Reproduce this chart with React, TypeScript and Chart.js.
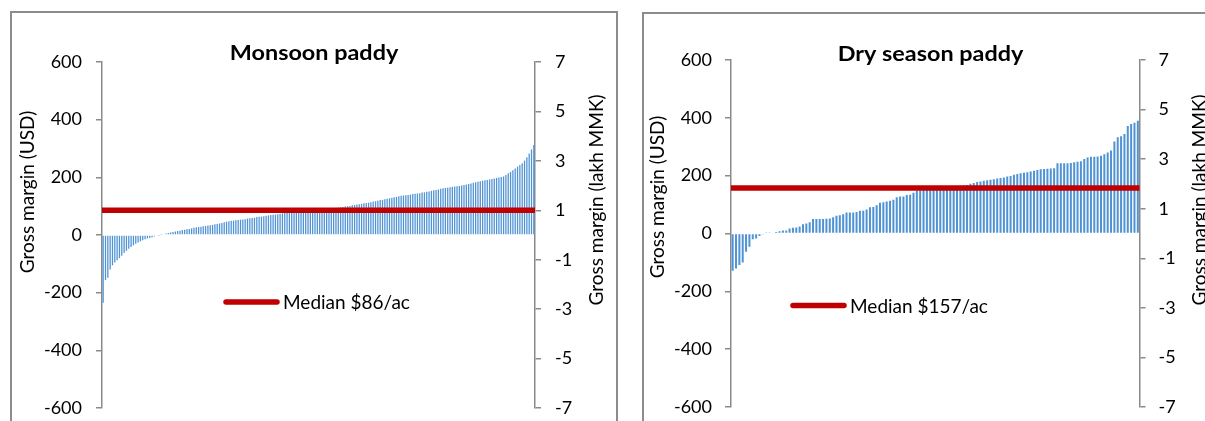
import React, { useEffect, useRef } from 'react';
import { Chart, registerables } from 'chart.js';

Chart.register(...registerables);

const FONT = 'Lato, "Open Sans", sans-serif';

const monsoonTitle = 'Monsoon paddy';
const drySeasonTitle = 'Dry season paddy';
const usdAxisTitle = 'Gross margin (USD)';
const mmkAxisTitle = 'Gross margin (lakh MMK)';

const usdRange = { min: -600, max: 600, step: 200 };
const mmkRange = { min: -7, max: 7, step: 2 };

const monsoonMedian = 86;
const dryMedian = 157;

const monsoonMargins = [
  -235, -156, -148, -120, -105, -95, -88, -80, -72, -62,
  -55, -48, -42, -36, -30, -26, -22, -18, -15, -12,
  -10, -8, -5, -3, -1, 1, 3, 5, 7, 9,
  10, 12, 14, 15, 17, 18, 20, 21, 23, 25,
  27, 28, 29, 30, 31, 33, 34, 35, 37, 38,
  40, 42, 44, 46, 48, 49, 50, 51, 52, 53,
  54, 55, 57, 58, 59, 60, 62, 63, 64, 65,
  67, 68, 69, 70, 71, 72, 74, 75, 76, 77,
  77, 78, 79, 80, 80, 81, 82, 82, 83, 84,
  84, 85, 86, 86, 87, 88, 89, 90, 91, 92,
  93, 95, 96, 97, 99, 100, 101, 103, 104, 106,
  107, 108, 110, 111, 112, 114, 116, 117, 119, 121,
  122, 124, 126, 127, 129, 131, 132, 134, 136, 137,
  138, 139, 140, 142, 143, 144, 145, 147, 148, 150,
  151, 153, 155, 156, 158, 160, 162, 163, 164, 166,
  167, 168, 169, 170, 172, 173, 175, 177, 179, 181,
  183, 185, 186, 188, 190, 191, 193, 194, 196, 198,
  199, 201, 203, 208, 214, 219, 225, 231, 237, 243,
  249, 258, 270, 283, 297, 312,
];

const dryMargins = [
  -129, -121, -109, -100, -63, -46, -20, -17, -9, -2,
  2, 2, 3, 5, 8, 10, 10, 17, 20, 21,
  24, 32, 35, 39, 50, 50, 50, 50, 51, 52,
  56, 61, 63, 67, 73, 73, 73, 74, 79, 79,
  83, 91, 92, 98, 106, 108, 111, 113, 117, 125,
  128, 128, 133, 134, 141, 148, 149, 150, 151, 152,
  154, 156, 157, 158, 159, 160, 162, 163, 165, 166,
  168, 172, 175, 178, 180, 182, 184, 186, 188, 190,
  192, 194, 197, 199, 203, 206, 208, 210, 212, 214,
  217, 220, 222, 223, 224, 225, 226, 243, 243, 243,
  243, 244, 246, 248, 250, 258, 263, 265, 265, 266,
  269, 274, 280, 287, 318, 333, 336, 344, 372, 379,
  383, 390,
];

type PanelCfg = {
  title: string;
  values: number[];
  median: number;
  canvasLeft: number;
  canvasWidth: number;
  area: { left: number; right: number; top: number; bottom: number };
  tickPad: number;
  barPct: number;
  titleX: number;
  titleY: number;
  leftTitleX: number;
  leftTitleY: number;
  rightTitleX: number;
  rightTitleY: number;
  legendX1: number;
  legendX2: number;
  legendY: number;
  legendTextX: number;
};

const CANVAS_H = 440;

const decorPlugin = {
  id: 'decor',
  afterDatasetsDraw(chart: any, _args: any, opts: any) {
    const { ctx, chartArea, scales } = chart;
    const y = scales.y.getPixelForValue(opts.median);
    ctx.save();
    ctx.strokeStyle = '#C00000';
    ctx.lineWidth = 5.5;
    ctx.lineCap = 'butt';
    ctx.beginPath();
    ctx.moveTo(chartArea.left, y);
    ctx.lineTo(chartArea.right, y);
    ctx.stroke();
    ctx.restore();
  },
  afterDraw(chart: any, _args: any, opts: any) {
    const { ctx } = chart;
    ctx.save();
    ctx.fillStyle = '#000';
    // title
    ctx.save();
    ctx.font = `bold 20px ${FONT}`;
    ctx.textAlign = 'center';
    ctx.textBaseline = 'alphabetic';
    ctx.translate(opts.titleX, opts.titleY);
    ctx.scale(1.17, 1);
    ctx.fillText(opts.title, 0, 0);
    ctx.restore();
    // axis titles
    ctx.font = `19px ${FONT}`;
    ctx.textAlign = 'center';
    ctx.textBaseline = 'middle';
    ctx.save();
    ctx.translate(opts.leftTitleX, opts.leftTitleY);
    ctx.rotate(-Math.PI / 2);
    ctx.fillText(usdAxisTitle, 0, 0);
    ctx.restore();
    ctx.save();
    ctx.translate(opts.rightTitleX, opts.rightTitleY);
    ctx.rotate(-Math.PI / 2);
    ctx.fillText(mmkAxisTitle, 0, 0);
    ctx.restore();
    // legend
    ctx.strokeStyle = '#C00000';
    ctx.lineWidth = 5.5;
    ctx.lineCap = 'round';
    ctx.beginPath();
    ctx.moveTo(opts.legendX1, opts.legendY);
    ctx.lineTo(opts.legendX2, opts.legendY);
    ctx.stroke();
    ctx.textAlign = 'left';
    ctx.textBaseline = 'middle';
    ctx.fillText(`Median $${opts.median}/ac`, opts.legendTextX, opts.legendY + 1);
    ctx.restore();
  },
};

function Panel({ cfg }: { cfg: PanelCfg }) {
  const ref = useRef<HTMLCanvasElement | null>(null);
  useEffect(() => {
    if (!ref.current) return;
    const a = cfg.area;
    const labels = cfg.values.map((_, i) => String(i + 1));
    const axisCommon = {
      grid: {
        drawOnChartArea: false,
        drawTicks: true,
        tickLength: 6,
        color: '#8A8A8A',
        lineWidth: 1.5,
      },
      border: { display: true, color: '#8A8A8A', width: 1.5 },
    };
    const chart = new Chart(ref.current, {
      type: 'bar',
      data: {
        labels,
        datasets: [
          {
            label: 'Gross margin',
            data: cfg.values,
            backgroundColor: '#4F93D4',
            borderWidth: 0,
            barPercentage: cfg.barPct,
            categoryPercentage: 1,
            yAxisID: 'y',
          },
        ],
      },
      options: {
        responsive: false,
        animation: false,
        devicePixelRatio: 1,
        layout: {
          padding: { top: a.top, bottom: CANVAS_H - a.bottom, left: 0, right: 0 },
        },
        plugins: {
          legend: { display: false },
          tooltip: { enabled: false },
          title: { display: false },
          decor: {
            median: cfg.median,
            title: cfg.title,
            titleX: cfg.titleX,
            titleY: cfg.titleY,
            leftTitleX: cfg.leftTitleX,
            leftTitleY: cfg.leftTitleY,
            rightTitleX: cfg.rightTitleX,
            rightTitleY: cfg.rightTitleY,
            legendX1: cfg.legendX1,
            legendX2: cfg.legendX2,
            legendY: cfg.legendY,
            legendTextX: cfg.legendTextX,
          },
        } as any,
        scales: {
          x: { type: 'category', display: false, offset: true },
          y: {
            type: 'linear',
            position: 'left',
            min: usdRange.min,
            max: usdRange.max,
            afterFit: (s: any) => {
              s.width = a.left;
            },
            ticks: {
              stepSize: usdRange.step,
              padding: cfg.tickPad,
              color: '#000',
              font: { family: FONT, size: 18 },
            },
            ...axisCommon,
          },
          y2: {
            type: 'linear',
            position: 'right',
            min: mmkRange.min,
            max: mmkRange.max,
            afterFit: (s: any) => {
              s.width = cfg.canvasWidth - a.right;
            },
            ticks: {
              stepSize: mmkRange.step,
              padding: cfg.tickPad,
              color: '#000',
              font: { family: FONT, size: 18 },
            },
            ...axisCommon,
          },
        },
      } as any,
      plugins: [decorPlugin as any],
    });
    return () => chart.destroy();
  }, [cfg]);
  return (
    <canvas
      ref={ref}
      width={cfg.canvasWidth}
      height={CANVAS_H}
      style={{
        position: 'absolute',
        left: cfg.canvasLeft,
        top: 0,
        width: cfg.canvasWidth,
        height: CANVAS_H,
      }}
    />
  );
}

const leftCfg: PanelCfg = {
  title: monsoonTitle,
  values: monsoonMargins,
  median: monsoonMedian,
  canvasLeft: 0,
  canvasWidth: 630,
  area: { left: 102, right: 535, top: 62, bottom: 408 },
  tickPad: 14,
  barPct: 0.55,
  titleX: 314,
  titleY: 60,
  leftTitleX: 28,
  leftTitleY: 192,
  rightTitleX: 597,
  rightTitleY: 200,
  legendX1: 226,
  legendX2: 277,
  legendY: 302,
  legendTextX: 283,
};

const rightCfg: PanelCfg = {
  title: drySeasonTitle,
  values: dryMargins,
  median: dryMedian,
  canvasLeft: 630,
  canvasWidth: 575,
  area: { left: 101, right: 509.5, top: 60, bottom: 407 },
  tickPad: 13,
  barPct: 0.6,
  titleX: 300.5,
  titleY: 61,
  leftTitleX: 28,
  leftTitleY: 197,
  rightTitleX: 570,
  rightTitleY: 200,
  legendX1: 163,
  legendX2: 214,
  legendY: 305.5,
  legendTextX: 220,
};

export default function App() {
  return (
    <div
      style={{
        position: 'fixed',
        left: 0,
        top: 0,
        width: 1205,
        height: 421,
        overflow: 'hidden',
        background: '#fff',
      }}
    >
      <div
        style={{
          position: 'absolute',
          left: 10,
          top: 11,
          width: 608,
          height: 500,
          boxSizing: 'border-box',
          border: '2px solid #8C8C8C',
        }}
      />
      <div
        style={{
          position: 'absolute',
          left: 642,
          top: 12,
          width: 700,
          height: 500,
          boxSizing: 'border-box',
          border: '2px solid #8C8C8C',
        }}
      />
      <Panel cfg={leftCfg} />
      <Panel cfg={rightCfg} />
    </div>
  );
}
